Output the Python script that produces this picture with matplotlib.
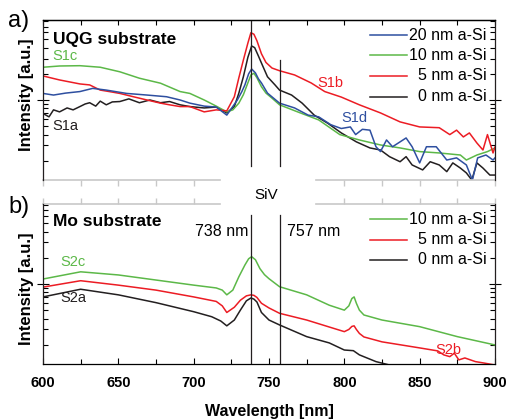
import numpy as np
import matplotlib
matplotlib.use("Agg")
import matplotlib.pyplot as plt
from matplotlib.ticker import LogLocator, MultipleLocator, NullFormatter, FixedLocator

plt.rcParams['font.family'] = ['Liberation Sans', 'DejaVu Sans']

# ---------------- a) UQG substrate: PL spectra (a.u., log scale) ----------------
wl_s1a = [600, 604, 607, 611, 616, 620, 624.5, 628, 631, 635, 638, 642, 646, 651, 657,
          664, 671, 678, 684, 691, 697.5, 707, 715, 722, 727, 730, 733, 736, 738.5, 740.5,
          743, 745, 749, 754, 757, 765, 772, 780, 789, 798, 808, 817, 824, 830, 837, 841,
          845, 852, 857, 863, 868, 872, 877, 881, 884.6, 888, 892, 896.6, 900]
int_s1a = [0.70, 0.64, 0.77, 0.73, 0.81, 0.77, 0.84, 0.90, 0.93, 0.85, 0.97, 0.88, 0.95,
           0.96, 1.03, 0.93, 1.00, 0.93, 0.96, 0.88, 0.84, 0.81, 0.83, 0.71, 0.84, 1.20,
           1.85, 3.10, 4.18, 4.00, 3.20, 2.66, 1.85, 1.49, 1.30, 1.14, 0.92, 0.67, 0.54,
           0.418, 0.33, 0.281, 0.266, 0.223, 0.195, 0.223, 0.179, 0.157, 0.195, 0.179,
           0.150, 0.189, 0.165, 0.145, 0.120, 0.189, 0.165, 0.137, 0.137]

wl_s1b = [600, 611, 624.5, 631, 638, 644, 651, 660, 669, 678, 684, 691, 697.5, 707, 715,
          722, 727, 730, 733, 736, 738, 740, 742, 745, 748, 752, 757, 767, 778, 787, 798,
          810, 824, 837, 850, 863, 870, 874.5, 879, 883, 888, 892, 895, 898.7, 900]
int_s1b = [1.89, 1.70, 1.53, 1.49, 1.30, 1.25, 1.19, 1.09, 1.00, 0.92, 0.88, 0.84, 0.84,
           0.73, 0.77, 0.75, 1.09, 1.80, 2.88, 4.52, 5.94, 5.70, 4.80, 3.40, 2.70, 2.33,
           2.17, 1.94, 1.57, 1.25, 1.08, 0.88, 0.71, 0.56, 0.49, 0.48, 0.40, 0.45, 0.376,
           0.418, 0.32, 0.266, 0.40, 0.246, 0.288]

wl_s1c = [600, 611, 624.5, 638, 651, 664, 678, 691, 697.5, 707, 715, 722, 726, 730, 733,
          735, 738, 740, 742, 745, 748, 752, 757, 769, 783, 797, 810, 824, 837, 850, 863,
          877, 881, 888, 895, 900]
int_s1c = [2.38, 2.46, 2.48, 2.38, 2.11, 1.78, 1.56, 1.25, 1.19, 1.00, 0.85, 0.73, 0.77,
           0.92, 1.15, 1.42, 1.94, 2.03, 1.80, 1.42, 1.20, 1.05, 0.88, 0.73, 0.59, 0.40,
           0.347, 0.304, 0.281, 0.255, 0.246, 0.233, 0.204, 0.233, 0.255, 0.281]

wl_s1d = [600, 607, 615, 624.5, 633, 642, 655.5, 669, 682, 691, 697.5, 707, 715, 722, 729,
          732, 734, 736.5, 738.5, 741, 743, 745, 749, 757, 767, 776, 783, 791, 798, 804,
          807.5, 812, 817, 821, 824, 828, 832, 837, 841, 845, 850, 854.5, 861, 868, 874.5,
          881, 885, 888.5, 894, 898.7, 900]
int_s1d = [1.19, 1.14, 1.20, 1.25, 1.36, 1.30, 1.19, 1.14, 1.09, 1.00, 0.92, 0.85, 0.83,
           0.67, 1.00, 1.25, 1.49, 2.00, 2.27, 2.05, 1.75, 1.57, 1.20, 0.92, 0.81, 0.67,
           0.64, 0.52, 0.47, 0.49, 0.40, 0.46, 0.45, 0.29, 0.255, 0.347, 0.29, 0.33, 0.366,
           0.29, 0.189, 0.29, 0.29, 0.204, 0.216, 0.179, 0.120, 0.216, 0.233, 0.204, 0.216]

# ---------------- b) Mo substrate ----------------
wl_s2a = [600, 625, 650, 675, 700, 712, 718, 722, 727, 731, 735, 738, 740, 742, 745, 750,
          757, 775, 790, 800, 806, 810, 821, 830, 840]
int_s2a = [0.71, 0.87, 0.75, 0.61, 0.48, 0.42, 0.375, 0.33, 0.385, 0.50, 0.64, 0.69,
           0.67, 0.62, 0.47, 0.385, 0.338, 0.248, 0.21, 0.174, 0.171, 0.153, 0.128, 0.117,
           0.103]

wl_s2b = [600, 625, 650, 675, 700, 715, 719, 722, 727, 731, 735, 738, 740, 742, 745, 750,
          757, 775, 790, 800, 803, 805, 806.5, 808, 810, 813, 825, 850, 862, 866, 870, 873,
          876, 880, 887, 893, 900]
int_s2b = [0.92, 1.09, 0.97, 0.85, 0.71, 0.63, 0.56, 0.47, 0.54, 0.65, 0.73, 0.75, 0.74,
           0.70, 0.60, 0.53, 0.46, 0.385, 0.32, 0.283, 0.30, 0.325, 0.33, 0.30, 0.27,
           0.246, 0.216, 0.184, 0.17, 0.153, 0.146, 0.16, 0.134, 0.141, 0.128, 0.123, 0.117]

wl_s2c = [600, 625, 650, 675, 700, 715, 719, 722, 726, 730, 734, 736.5, 738.5, 741, 744,
          747, 750, 757, 775, 790, 800, 803, 805, 806.5, 808, 810, 813, 825, 850, 875, 900]
int_s2c = [1.14, 1.38, 1.27, 1.11, 0.97, 0.90, 0.85, 0.75, 0.85, 1.21, 1.65, 1.95, 2.06,
           1.90, 1.50, 1.28, 1.15, 0.93, 0.75, 0.57, 0.50, 0.56, 0.68, 0.71, 0.60, 0.50,
           0.44, 0.385, 0.323, 0.248, 0.199]

siv_lines = [738, 757]

GREEN = '#5cb848'
RED = '#ec1c24'
BLUE = '#2e4fa0'
BLACK = '#231f20'
GREY = '#c8c8c8'
LW = 1.1

fig = plt.figure(figsize=(5.08, 4.19), dpi=100)
ax1 = fig.add_axes([0.0846, 0.5704, 0.8898, 0.3819])
ax2 = fig.add_axes([0.0846, 0.1313, 0.8898, 0.3819])

ylim = (0.1202, 8.318)
for ax in (ax1, ax2):
    ax.set_yscale('log')
    ax.set_xlim(600, 900)
    ax.set_ylim(*ylim)
    ax.yaxis.set_major_locator(LogLocator(base=10, numticks=10))
    ax.yaxis.set_minor_locator(LogLocator(base=10, subs=np.arange(2, 10), numticks=20))
    ax.yaxis.set_major_formatter(NullFormatter())
    ax.yaxis.set_minor_formatter(NullFormatter())
    ax.tick_params(axis='y', which='major', direction='inout', length=8, width=0.8,
                   left=True, right=True, labelleft=False)
    ax.tick_params(axis='y', which='minor', direction='in', length=3.5, width=0.8,
                   left=True, right=True)
    for s in ('left', 'right'):
        ax.spines[s].set_linewidth(0.9)
        ax.spines[s].set_color(BLACK)

# --- panel a ---
ax1.plot(wl_s1a, int_s1a, color=BLACK, lw=LW)
ax1.plot(wl_s1c, int_s1c, color=GREEN, lw=LW)
ax1.plot(wl_s1b, int_s1b, color=RED, lw=LW)
ax1.plot(wl_s1d, int_s1d, color=BLUE, lw=LW)

ax1.axvline(siv_lines[0], ymin=0.0875, ymax=1.0, color=BLACK, lw=0.9)
ax1.axvline(siv_lines[1], ymin=0.0875, ymax=0.75, color=BLACK, lw=0.9)

ax1.spines['top'].set_linewidth(0.9)
ax1.spines['bottom'].set_visible(False)
ax1.xaxis.set_major_locator(FixedLocator([600, 625, 650, 675, 700, 800, 825, 850, 875, 900]))
ax1.xaxis.set_minor_locator(FixedLocator([]))
ax1.tick_params(axis='x', which='major', direction='out', length=4, width=1,
                color=GREY, labelbottom=False)
xt = ax1.get_xaxis_transform()
for seg in ([600, 717.5], [781, 900]):
    ax1.plot(seg, [0, 0], transform=xt, color=GREY, lw=1.2, clip_on=False)
top1 = ax1.secondary_xaxis('top')
top1.set_xticks(np.arange(600, 901, 25))
top1.tick_params(axis='x', direction='in', length=3.5, width=0.8, labeltop=False)
top1.spines['top'].set_linewidth(0.9)

ax1.set_ylabel('Intensity [a.u.]', fontsize=12, fontweight='bold')
ax1.yaxis.set_label_coords(-0.02, 0.53)

ax1.text(0.022, 0.875, 'UQG substrate', transform=ax1.transAxes, fontsize=12.5,
         fontweight='bold', va='center', ha='left')
ax1.text(0.02, 0.775, 'S1c', transform=ax1.transAxes, fontsize=10.5, color=GREEN,
         va='center', ha='left')
ax1.text(0.02, 0.3375, 'S1a', transform=ax1.transAxes, fontsize=10.5, color=BLACK,
         va='center', ha='left')
ax1.text(0.608, 0.606, 'S1b', transform=ax1.transAxes, fontsize=10.5, color=RED,
         va='center', ha='left')
ax1.text(0.661, 0.3875, 'S1d', transform=ax1.transAxes, fontsize=10.5, color=BLUE,
         va='center', ha='left')

leg1 = [('20 nm a-Si', BLUE), ('10 nm a-Si', GREEN), ('5 nm a-Si', RED), ('0 nm a-Si', BLACK)]
for (lab, col), yy in zip(leg1, [0.906, 0.781, 0.65, 0.519]):
    ax1.plot([0.7235, 0.805], [yy, yy], transform=ax1.transAxes, color=col, lw=LW)
    ax1.text(0.982, yy, lab, transform=ax1.transAxes, fontsize=11.5, ha='right',
             va='center')

# --- panel b ---
ax2.plot(wl_s2a, int_s2a, color=BLACK, lw=LW)
ax2.plot(wl_s2b, int_s2b, color=RED, lw=LW)
ax2.plot(wl_s2c, int_s2c, color=GREEN, lw=LW)

for x in siv_lines:
    ax2.axvline(x, ymin=0.0, ymax=0.93, color=BLACK, lw=0.9)

ax2.spines['bottom'].set_linewidth(0.9)
ax2.spines['top'].set_visible(False)
ax2.xaxis.set_major_locator(MultipleLocator(50))
ax2.xaxis.set_minor_locator(MultipleLocator(25))
ax2.tick_params(axis='x', which='major', direction='in', length=4, width=0.8, pad=9,
                labelsize=10.5)
ax2.tick_params(axis='x', which='minor', direction='in', length=3.5, width=0.8)
for lbl in ax2.get_xticklabels():
    lbl.set_fontweight('bold')
xt2 = ax2.get_xaxis_transform()
for seg in ([600, 717.5], [781, 900]):
    ax2.plot(seg, [1, 1], transform=xt2, color=GREY, lw=1.2, clip_on=False)
top2 = ax2.secondary_xaxis('top')
top2.set_xticks([600, 625, 650, 675, 700, 800, 825, 850, 875, 900])
top2.tick_params(axis='x', direction='out', length=4, width=1, color=GREY, labeltop=False)
top2.spines['top'].set_visible(False)

ax2.set_ylabel('Intensity [a.u.]', fontsize=12, fontweight='bold')
ax2.yaxis.set_label_coords(-0.02, 0.47)
ax2.set_xlabel('Wavelength [nm]', fontsize=11.5, fontweight='bold', labelpad=10)

ax2.text(0.022, 0.8875, 'Mo substrate', transform=ax2.transAxes, fontsize=12.5,
         fontweight='bold', va='center', ha='left')
ax2.text(736, 0.825, '738 nm', transform=xt2, fontsize=11.5, ha='right', va='center')
ax2.text(762, 0.825, '757 nm', transform=xt2, fontsize=11.5, ha='left', va='center')
ax2.text(0.038, 0.6375, 'S2c', transform=ax2.transAxes, fontsize=10.5, color=GREEN,
         va='center', ha='left')
ax2.text(0.038, 0.4125, 'S2a', transform=ax2.transAxes, fontsize=10.5, color=BLACK,
         va='center', ha='left')
ax2.text(0.867, 0.0875, 'S2b', transform=ax2.transAxes, fontsize=10.5, color=RED,
         va='center', ha='left')

leg2 = [('10 nm a-Si', GREEN), ('5 nm a-Si', RED), ('0 nm a-Si', BLACK)]
for (lab, col), yy in zip(leg2, [0.906, 0.775, 0.65]):
    ax2.plot([0.7235, 0.805], [yy, yy], transform=ax2.transAxes, color=col, lw=LW)
    ax2.text(0.982, yy, lab, transform=ax2.transAxes, fontsize=11.5, ha='right',
             va='center')

fig.text(266 / 508, 1 - 195 / 419, 'SiV', fontsize=11, ha='center', va='center')
fig.text(8 / 508, 1 - 21 / 419, 'a)', fontsize=17, ha='left', va='center')
fig.text(8 / 508, 1 - 207 / 419, 'b)', fontsize=17, ha='left', va='center')

fig.savefig('out.png', dpi=100, facecolor='white')
